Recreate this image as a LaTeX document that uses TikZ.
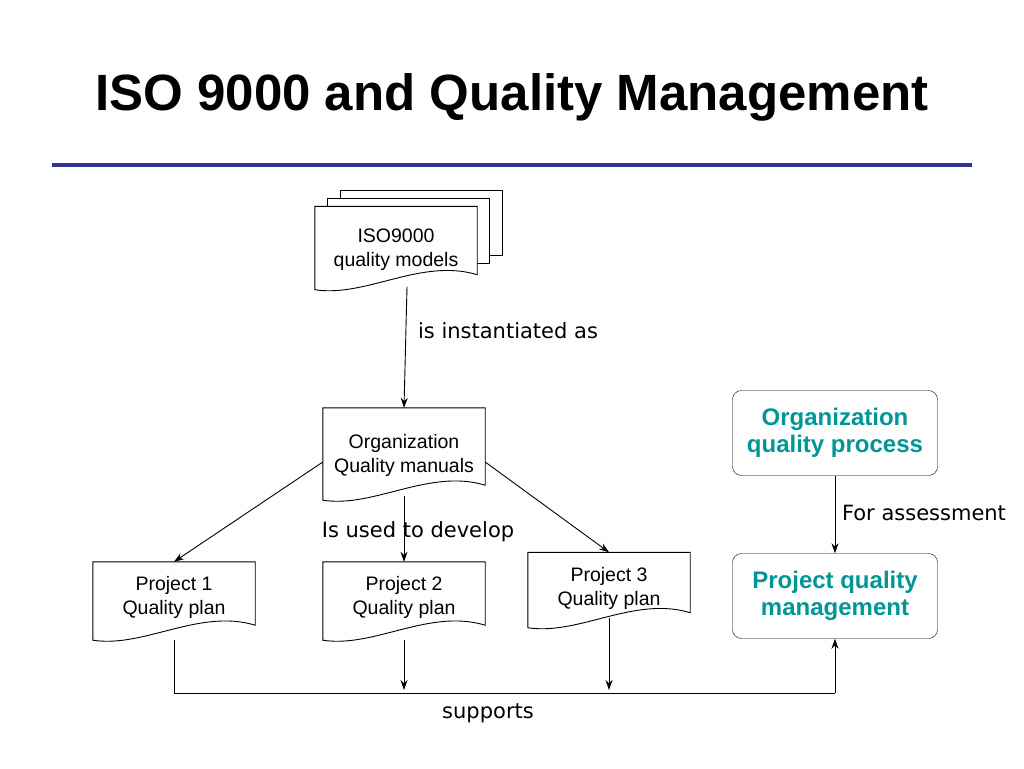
\documentclass[tikz,border=0pt]{standalone}
\usepackage{fontspec}
\setmainfont{Liberation Sans}
\newfontfamily\labelfont{DejaVu Sans}
\usetikzlibrary{calc,arrows.meta}
\definecolor{rulecol}{RGB}{51,51,153}
\definecolor{tealtext}{RGB}{0,150,150}

\tikzset{
  docbox/.style={minimum width=162pt, minimum height=70pt, inner sep=0pt, align=center, font=\fontsize{19.5}{24}\selectfont},
  procbox/.style={draw, rounded corners=9pt, minimum width=205pt, minimum height=85pt, align=center,
    text=tealtext, font=\fontsize{24}{27}\selectfont\bfseries},
  conn/.style={-{Stealth[length=10pt,width=7pt]}, line width=0.9pt},
  linklabel/.style={font=\labelfont\fontsize{21}{24}\selectfont}
}
\newcommand{\docframe}[1]{%
  \draw[line width=0.9pt, fill=white] (#1.north west) -- (#1.north east)
    -- ($(#1.south east)+(0,-15)$)
    .. controls ($(#1.south)+(25,-32)$) and ($(#1.south)+(-30,8)$) .. (#1.south west) -- cycle;}

\begin{document}
\begin{tikzpicture}[x=1pt, y=-1pt]
  \useasboundingbox (0,0) rectangle (1024,768);
  % title and rule
  \node (title) at (512,97) {\fontsize{51}{56}\selectfont\bfseries ISO 9000 and Quality Management};
  \draw[rulecol, line width=4pt] (52,165) -- (972,165);
  %
  \draw[line width=0.9pt, fill=white] (340,190) rectangle (502,255);
  \draw[line width=0.9pt, fill=white] (327,198) rectangle (489,263);
  \node[docbox, minimum height=83pt] (iso) at (396,248) {};
  \docframe{iso}
  \node[docbox] at (iso) [yshift=-2pt] {ISO9000\\quality models};
  %
  \node[docbox, minimum height=92pt] (orgman) at (404,454) {};
  \docframe{orgman}
  \node[docbox] at (orgman) [yshift=-1pt] {Organization\\Quality manuals};
  %
  \node[docbox, minimum height=78pt] (proj1) at (174,601) {};
  \docframe{proj1}
  \node[docbox] at (174,597) {Project 1\\Quality plan};
  \node[docbox, minimum height=78pt] (proj2) at (404,601) {};
  \docframe{proj2}
  \node[docbox] at (404,597) {Project 2\\Quality plan};
  \node[docbox, minimum height=75pt] (proj3) at (609,590) {};
  \docframe{proj3}
  \node[docbox] at (609,588) {Project 3\\Quality plan};
  %
  \node[procbox] (orgproc) at (835,433) {Organization\\quality process};
  \node[procbox] (pqm) at (835,596) {Project quality\\management};
  %
  \draw[conn] ($(iso.south)+(11,-3)$) -- (orgman.north);
  \node[linklabel] (instlabel) at (508,331) {is instantiated as};
  \draw[conn] ($(orgman.west)+(0,8)$) -- (proj1.north);
  \draw[conn] ($(orgman.east)+(0,8)$) -- (proj3.north);
  \draw[conn] ($(orgman.south)+(0,-4)$) -- (proj2.north);
  \node[linklabel] (devlabel) at (418,532) {Is used to develop};
  \draw[conn] (orgproc) -- (pqm);
  \node[linklabel] (asslabel) at (924,513) {For assessment};
  %
  \coordinate (busl) at (174,693);
  \coordinate (busr) at (835,693);
  \draw[line width=0.9pt] (proj1.south) -- (busl) -- (busr);
  \draw[conn] (busr) -- (pqm.south);
  \draw[conn] (proj2.south) -- (404,690);
  \draw[conn] ($(proj3.south)+(0,-10)$) -- (609,690);
  \node[linklabel] (suplabel) at (488,713) {supports};
\end{tikzpicture}
\end{document}
